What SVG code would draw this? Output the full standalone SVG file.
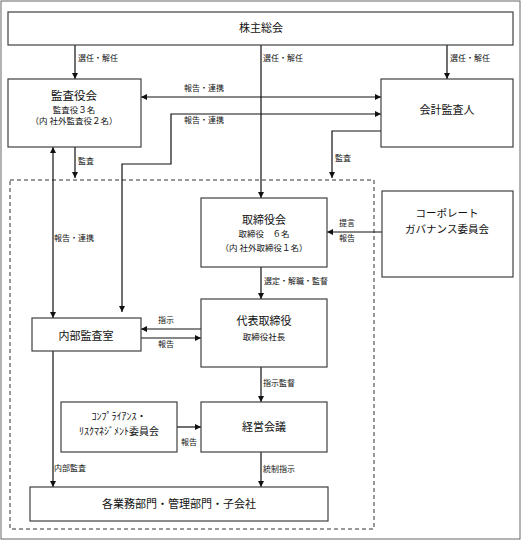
<svg xmlns="http://www.w3.org/2000/svg" width="522" height="541" viewBox="0 0 522 541">
<style>
.box{fill:#fff;stroke:#404040;stroke-width:1.2}
.ln{fill:none;stroke:#111;stroke-width:1.2}
.t{font-family:"Noto Sans CJK JP","Noto Sans",sans-serif;fill:#111;text-anchor:middle;dominant-baseline:central}
.t11{font-size:11px}
.t9{font-size:8.5px}
.lb{font-family:"Noto Sans CJK JP","Noto Sans",sans-serif;fill:#111;font-size:8px;dominant-baseline:central}
</style>
<defs>
<marker id="ah" viewBox="0 0 8 8" refX="8" refY="4" markerWidth="6" markerHeight="6" orient="auto-start-reverse" markerUnits="userSpaceOnUse">
<path d="M0,0 L8,4 L0,8 z" fill="#111"/>
</marker>
</defs>
<rect x="1" y="1" width="519" height="538" fill="#fff" stroke="#666" stroke-width="1"/>
<rect x="10" y="180" width="364" height="349" fill="none" stroke="#333" stroke-width="1" stroke-dasharray="4,3"/>

<g id="connectors">
<path class="ln" d="M75,45 V79" marker-end="url(#ah)"/>
<path class="ln" d="M261,45 V198" marker-end="url(#ah)"/>
<path class="ln" d="M447,45 V79" marker-end="url(#ah)"/>
<path class="ln" d="M141,97 H381" marker-start="url(#ah)" marker-end="url(#ah)"/>
<path class="ln" d="M122,312 V164 H171 V114 H381" marker-start="url(#ah)" marker-end="url(#ah)"/>
<path class="ln" d="M75,147 V178" marker-end="url(#ah)"/>
<path class="ln" d="M53,147 V318" marker-start="url(#ah)" marker-end="url(#ah)"/>
<path class="ln" d="M381,131 H332 V178" marker-end="url(#ah)"/>
<path class="ln" d="M382,232 H327" marker-end="url(#ah)"/>
<path class="ln" d="M261,267 V299" marker-end="url(#ah)"/>
<path class="ln" d="M201,329 H141" marker-end="url(#ah)"/>
<path class="ln" d="M141,338 H201" marker-end="url(#ah)"/>
<path class="ln" d="M261,367 V402" marker-end="url(#ah)"/>
<path class="ln" d="M177,427 H201" marker-end="url(#ah)"/>
<path class="ln" d="M261,452 V487" marker-end="url(#ah)"/>
<path class="ln" d="M53,351 V487" marker-end="url(#ah)"/>
<text class="lb" x="78" y="57">選任・解任</text>
<text class="lb" x="263" y="57">選任・解任</text>
<text class="lb" x="450" y="57">選任・解任</text>
<text class="lb" x="184" y="87">報告・連携</text>
<text class="lb" x="184" y="119">報告・連携</text>
<text class="lb" x="78" y="160">監査</text>
<text class="lb" x="335" y="157">監査</text>
<text class="lb" x="54" y="237">報告・連携</text>
<text class="lb" x="339" y="222">提言</text>
<text class="lb" x="339" y="237">報告</text>
<text class="lb" x="264" y="280">選定・解職・監督</text>
<text class="lb" x="158" y="319">指示</text>
<text class="lb" x="158" y="343">報告</text>
<text class="lb" x="263" y="382">指示監督</text>
<text class="lb" x="181" y="441">報告</text>
<text class="lb" x="263" y="468">統制指示</text>
<text class="lb" x="54" y="467">内部監査</text>
</g>

<g id="n-shareholders">
<rect class="box" x="8" y="12" width="505" height="33"/>
<text class="t t11" x="261" y="27">株主総会</text>
</g>
<g id="n-kansayakukai">
<rect class="box" x="8" y="79" width="133" height="68"/>
<text class="t" style="font-size:11.5px" x="74" y="95">監査役会</text>
<text class="t t9" x="74" y="109">監査役３名</text>
<text class="t t9" x="74" y="120">（内 社外監査役２名）</text>
</g>
<g id="n-kaikei">
<rect class="box" x="381" y="79" width="132" height="68"/>
<text class="t t11" x="447" y="109">会計監査人</text>
</g>
<g id="n-torishimariyakukai">
<rect class="box" x="201" y="198" width="126" height="69"/>
<text class="t t11" x="264" y="219">取締役会</text>
<text class="t t9" x="264" y="233">取締役　６名</text>
<text class="t t9" x="264" y="247">（内 社外取締役１名）</text>
</g>
<g id="n-governance">
<rect class="box" x="382" y="191" width="131" height="86"/>
<text class="t" style="font-size:10.5px" x="447" y="212">コーポレート</text>
<text class="t" style="font-size:10.5px" x="447" y="228">ガバナンス委員会</text>
</g>
<g id="n-daihyo">
<rect class="box" x="201" y="299" width="126" height="68"/>
<text class="t t11" x="264" y="320">代表取締役</text>
<text class="t t9" x="264" y="336">取締役社長</text>
</g>
<g id="n-naibu">
<rect class="box" x="32" y="318" width="109" height="33"/>
<text class="t t11" x="86" y="335">内部監査室</text>
</g>
<g id="n-compliance">
<rect class="box" x="61" y="402" width="116" height="50"/>
<text class="t" style="font-size:10px" x="119" y="415">ｺﾝﾌﾟﾗｲｱﾝｽ・</text>
<text class="t" style="font-size:10px" x="119" y="430">ﾘｽｸﾏﾈｼﾞﾒﾝﾄ委員会</text>
</g>
<g id="n-keiei">
<rect class="box" x="201" y="402" width="126" height="50"/>
<text class="t t11" x="264" y="426">経営会議</text>
</g>
<g id="n-bumon">
<rect class="box" x="30" y="487" width="298" height="34"/>
<text class="t t11" x="179" y="503">各業務部門・管理部門・子会社</text>
</g>
</svg>
